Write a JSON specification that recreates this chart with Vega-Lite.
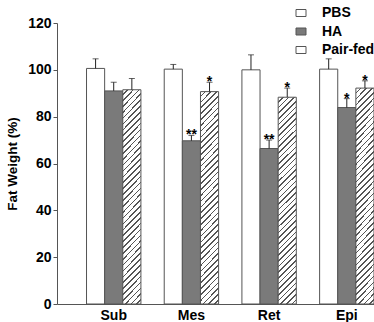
{
  "$schema": "https://vega.github.io/schema/vega-lite/v6.json",
  "width": 317,
  "height": 281,
  "autosize": {"type": "none"},
  "padding": {"left": 57, "top": 23, "right": 0, "bottom": 18},
  "background": "white",
  "config": {
    "view": {"stroke": null},
    "font": "Liberation Sans",
    "axis": {"grid": false, "domainColor": "#555", "tickColor": "#555", "labelColor": "#000", "labelFontWeight": "bold", "labelFontSize": 14, "titleFontWeight": "bold", "titleColor": "#000"}
  },
  "data": {
    "values": [
      {"site": "Sub", "group": "PBS", "value": 100.6, "upper": 104.7, "sig": ""},
      {"site": "Sub", "group": "HA", "value": 91.0, "upper": 94.7, "sig": ""},
      {"site": "Sub", "group": "Pair-fed", "value": 91.5, "upper": 96.3, "sig": ""},
      {"site": "Mes", "group": "PBS", "value": 100.3, "upper": 102.3, "sig": ""},
      {"site": "Mes", "group": "HA", "value": 69.7, "upper": 72.0, "sig": "**"},
      {"site": "Mes", "group": "Pair-fed", "value": 90.7, "upper": 94.7, "sig": "*"},
      {"site": "Ret", "group": "PBS", "value": 100.0, "upper": 106.4, "sig": ""},
      {"site": "Ret", "group": "HA", "value": 66.4, "upper": 70.0, "sig": "**"},
      {"site": "Ret", "group": "Pair-fed", "value": 88.3, "upper": 92.2, "sig": "*"},
      {"site": "Epi", "group": "PBS", "value": 100.3, "upper": 104.7, "sig": ""},
      {"site": "Epi", "group": "HA", "value": 83.9, "upper": 87.7, "sig": "*"},
      {"site": "Epi", "group": "Pair-fed", "value": 92.2, "upper": 95.3, "sig": "*"}
    ]
  },
  "encoding": {
    "x": {"field": "site", "type": "nominal", "sort": ["Sub", "Mes", "Ret", "Epi"],
      "scale": {"paddingInner": 0.3, "paddingOuter": 0.19, "align": 1},
      "axis": {"title": null, "ticks": false, "labelAngle": 0, "labelPadding": 4}},
    "xOffset": {"field": "group", "type": "nominal", "sort": ["PBS", "HA", "Pair-fed"], "scale": {"paddingInner": 0, "paddingOuter": 0}}
  },
  "layer": [
    {
      "mark": {"type": "bar", "stroke": "#555", "strokeWidth": 1},
      "encoding": {
        "y": {"field": "value", "type": "quantitative", "scale": {"domain": [0, 120]},
          "axis": {"values": [0, 20, 40, 60, 80, 100, 120], "title": "Fat Weight (%)", "titleFontSize": 13.5, "titlePadding": 8, "tickSize": 4, "labelPadding": 2}},
        "fill": {
          "condition": {"test": "datum.group === 'Pair-fed'", "value": {"gradient": "linear", "x1": 0, "y1": 0, "x2": 0.095, "y2": 1.09, "stops": [
            {"offset": 0, "color": "#fff"}, {"offset": 0.018, "color": "#fff"}, {"offset": 0.018, "color": "#555"}, {"offset": 0.025, "color": "#555"},
            {"offset": 0.025, "color": "#fff"}, {"offset": 0.043, "color": "#fff"}, {"offset": 0.043, "color": "#555"}, {"offset": 0.05, "color": "#555"},
            {"offset": 0.05, "color": "#fff"}, {"offset": 0.068, "color": "#fff"}, {"offset": 0.068, "color": "#555"}, {"offset": 0.075, "color": "#555"},
            {"offset": 0.075, "color": "#fff"}, {"offset": 0.093, "color": "#fff"}, {"offset": 0.093, "color": "#555"}, {"offset": 0.1, "color": "#555"},
            {"offset": 0.1, "color": "#fff"}, {"offset": 0.118, "color": "#fff"}, {"offset": 0.118, "color": "#555"}, {"offset": 0.125, "color": "#555"},
            {"offset": 0.125, "color": "#fff"}, {"offset": 0.143, "color": "#fff"}, {"offset": 0.143, "color": "#555"}, {"offset": 0.15, "color": "#555"},
            {"offset": 0.15, "color": "#fff"}, {"offset": 0.168, "color": "#fff"}, {"offset": 0.168, "color": "#555"}, {"offset": 0.175, "color": "#555"},
            {"offset": 0.175, "color": "#fff"}, {"offset": 0.193, "color": "#fff"}, {"offset": 0.193, "color": "#555"}, {"offset": 0.2, "color": "#555"},
            {"offset": 0.2, "color": "#fff"}, {"offset": 0.218, "color": "#fff"}, {"offset": 0.218, "color": "#555"}, {"offset": 0.225, "color": "#555"},
            {"offset": 0.225, "color": "#fff"}, {"offset": 0.243, "color": "#fff"}, {"offset": 0.243, "color": "#555"}, {"offset": 0.25, "color": "#555"},
            {"offset": 0.25, "color": "#fff"}, {"offset": 0.268, "color": "#fff"}, {"offset": 0.268, "color": "#555"}, {"offset": 0.275, "color": "#555"},
            {"offset": 0.275, "color": "#fff"}, {"offset": 0.293, "color": "#fff"}, {"offset": 0.293, "color": "#555"}, {"offset": 0.3, "color": "#555"},
            {"offset": 0.3, "color": "#fff"}, {"offset": 0.318, "color": "#fff"}, {"offset": 0.318, "color": "#555"}, {"offset": 0.325, "color": "#555"},
            {"offset": 0.325, "color": "#fff"}, {"offset": 0.343, "color": "#fff"}, {"offset": 0.343, "color": "#555"}, {"offset": 0.35, "color": "#555"},
            {"offset": 0.35, "color": "#fff"}, {"offset": 0.368, "color": "#fff"}, {"offset": 0.368, "color": "#555"}, {"offset": 0.375, "color": "#555"},
            {"offset": 0.375, "color": "#fff"}, {"offset": 0.393, "color": "#fff"}, {"offset": 0.393, "color": "#555"}, {"offset": 0.4, "color": "#555"},
            {"offset": 0.4, "color": "#fff"}, {"offset": 0.418, "color": "#fff"}, {"offset": 0.418, "color": "#555"}, {"offset": 0.425, "color": "#555"},
            {"offset": 0.425, "color": "#fff"}, {"offset": 0.443, "color": "#fff"}, {"offset": 0.443, "color": "#555"}, {"offset": 0.45, "color": "#555"},
            {"offset": 0.45, "color": "#fff"}, {"offset": 0.468, "color": "#fff"}, {"offset": 0.468, "color": "#555"}, {"offset": 0.475, "color": "#555"},
            {"offset": 0.475, "color": "#fff"}, {"offset": 0.493, "color": "#fff"}, {"offset": 0.493, "color": "#555"}, {"offset": 0.5, "color": "#555"},
            {"offset": 0.5, "color": "#fff"}, {"offset": 0.518, "color": "#fff"}, {"offset": 0.518, "color": "#555"}, {"offset": 0.525, "color": "#555"},
            {"offset": 0.525, "color": "#fff"}, {"offset": 0.543, "color": "#fff"}, {"offset": 0.543, "color": "#555"}, {"offset": 0.55, "color": "#555"},
            {"offset": 0.55, "color": "#fff"}, {"offset": 0.568, "color": "#fff"}, {"offset": 0.568, "color": "#555"}, {"offset": 0.575, "color": "#555"},
            {"offset": 0.575, "color": "#fff"}, {"offset": 0.593, "color": "#fff"}, {"offset": 0.593, "color": "#555"}, {"offset": 0.6, "color": "#555"},
            {"offset": 0.6, "color": "#fff"}, {"offset": 0.618, "color": "#fff"}, {"offset": 0.618, "color": "#555"}, {"offset": 0.625, "color": "#555"},
            {"offset": 0.625, "color": "#fff"}, {"offset": 0.643, "color": "#fff"}, {"offset": 0.643, "color": "#555"}, {"offset": 0.65, "color": "#555"},
            {"offset": 0.65, "color": "#fff"}, {"offset": 0.668, "color": "#fff"}, {"offset": 0.668, "color": "#555"}, {"offset": 0.675, "color": "#555"},
            {"offset": 0.675, "color": "#fff"}, {"offset": 0.693, "color": "#fff"}, {"offset": 0.693, "color": "#555"}, {"offset": 0.7, "color": "#555"},
            {"offset": 0.7, "color": "#fff"}, {"offset": 0.718, "color": "#fff"}, {"offset": 0.718, "color": "#555"}, {"offset": 0.725, "color": "#555"},
            {"offset": 0.725, "color": "#fff"}, {"offset": 0.743, "color": "#fff"}, {"offset": 0.743, "color": "#555"}, {"offset": 0.75, "color": "#555"},
            {"offset": 0.75, "color": "#fff"}, {"offset": 0.768, "color": "#fff"}, {"offset": 0.768, "color": "#555"}, {"offset": 0.775, "color": "#555"},
            {"offset": 0.775, "color": "#fff"}, {"offset": 0.793, "color": "#fff"}, {"offset": 0.793, "color": "#555"}, {"offset": 0.8, "color": "#555"},
            {"offset": 0.8, "color": "#fff"}, {"offset": 0.818, "color": "#fff"}, {"offset": 0.818, "color": "#555"}, {"offset": 0.825, "color": "#555"},
            {"offset": 0.825, "color": "#fff"}, {"offset": 0.843, "color": "#fff"}, {"offset": 0.843, "color": "#555"}, {"offset": 0.85, "color": "#555"},
            {"offset": 0.85, "color": "#fff"}, {"offset": 0.868, "color": "#fff"}, {"offset": 0.868, "color": "#555"}, {"offset": 0.875, "color": "#555"},
            {"offset": 0.875, "color": "#fff"}, {"offset": 0.893, "color": "#fff"}, {"offset": 0.893, "color": "#555"}, {"offset": 0.9, "color": "#555"},
            {"offset": 0.9, "color": "#fff"}, {"offset": 0.918, "color": "#fff"}, {"offset": 0.918, "color": "#555"}, {"offset": 0.925, "color": "#555"},
            {"offset": 0.925, "color": "#fff"}, {"offset": 0.943, "color": "#fff"}, {"offset": 0.943, "color": "#555"}, {"offset": 0.95, "color": "#555"},
            {"offset": 0.95, "color": "#fff"}, {"offset": 0.968, "color": "#fff"}, {"offset": 0.968, "color": "#555"}, {"offset": 0.975, "color": "#555"},
            {"offset": 0.975, "color": "#fff"}, {"offset": 0.993, "color": "#fff"}, {"offset": 0.993, "color": "#555"}, {"offset": 1, "color": "#555"}
          ]}},
          "field": "group", "type": "nominal",
          "scale": {"domain": ["PBS", "HA", "Pair-fed"], "range": ["#ffffff", "#7a7a7a", "#ffffff"]},
          "legend": {
            "title": null, "orient": "none", "legendX": 237, "legendY": -17, "padding": 0,
            "symbolType": "M-1,-0.7H1V0.7H-1Z", "symbolSize": 100, "symbolStrokeColor": "#555", "symbolStrokeWidth": 1,
            "labelFontSize": 14, "labelFontWeight": "bold", "labelColor": "#000", "labelOffset": 14, "rowPadding": 4.5,
            "encode": {"symbols": {"update": {
              "stroke": {"value": "#555"},
              "strokeWidth": {"value": 1},
              "fill": {"signal": "datum.value === 'Pair-fed' ? {gradient: 'linear', x1: 0, y1: 0, x2: 1, y2: 0.7, stops: [{offset: 0, color: '#fff'}, {offset: 0.18, color: '#fff'}, {offset: 0.18, color: '#555'}, {offset: 0.25, color: '#555'}, {offset: 0.25, color: '#fff'}, {offset: 0.43, color: '#fff'}, {offset: 0.43, color: '#555'}, {offset: 0.5, color: '#555'}, {offset: 0.5, color: '#fff'}, {offset: 0.68, color: '#fff'}, {offset: 0.68, color: '#555'}, {offset: 0.75, color: '#555'}, {offset: 0.75, color: '#fff'}, {offset: 0.93, color: '#fff'}, {offset: 0.93, color: '#555'}, {offset: 1, color: '#555'}]} : (datum.value === 'HA' ? '#7a7a7a' : '#ffffff')"}
            }}}
          }
        }
      }
    },
    {
      "mark": {"type": "rule", "color": "#222", "strokeWidth": 1},
      "encoding": {"y": {"field": "value", "type": "quantitative"}, "y2": {"field": "upper"}}
    },
    {
      "mark": {"type": "tick", "color": "#222", "thickness": 1, "size": 6, "orient": "horizontal"},
      "encoding": {"y": {"field": "upper", "type": "quantitative"}}
    },
    {
      "mark": {"type": "text", "fontSize": 14, "fontWeight": "bold", "color": "#000", "baseline": "alphabetic", "dy": 4},
      "encoding": {"y": {"field": "upper", "type": "quantitative"}, "text": {"field": "sig"}}
    }
  ]
}
